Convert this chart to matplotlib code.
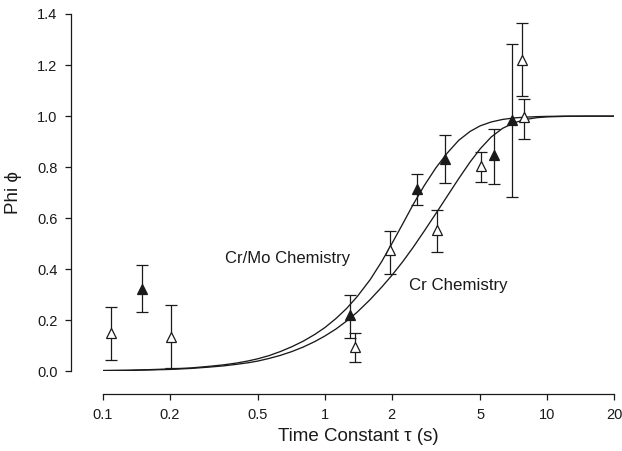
import numpy as np
import matplotlib
matplotlib.use("Agg")
import matplotlib.pyplot as plt

plt.rcParams['font.family'] = ['Liberation Sans', 'DejaVu Sans']

# fitted curves
curve_t = [0.1, 0.13, 0.16, 0.2, 0.25, 0.3, 0.35, 0.4, 0.45, 0.5, 0.56, 0.63,
           0.71, 0.8, 0.9, 1.0, 1.12, 1.25, 1.4, 1.6, 1.8, 2.0, 2.24, 2.5,
           2.8, 3.15, 3.55, 4.0, 4.5, 5.0, 5.6, 6.3, 7.1, 8.0, 9.0, 10, 12,
           15, 20]
curve_crmo = [0.004, 0.005, 0.007, 0.010, 0.014, 0.020, 0.026, 0.033, 0.041,
              0.050, 0.062, 0.078, 0.097, 0.119, 0.145, 0.172, 0.207, 0.246,
              0.294, 0.360, 0.430, 0.500, 0.578, 0.655, 0.728, 0.796, 0.855,
              0.905, 0.940, 0.962, 0.977, 0.987, 0.993, 0.996, 0.998, 0.999,
              1.0, 1.0, 1.0]
curve_cr = [0.003, 0.004, 0.006, 0.008, 0.012, 0.017, 0.022, 0.028, 0.034,
            0.041, 0.051, 0.063, 0.078, 0.096, 0.117, 0.139, 0.166, 0.197,
            0.233, 0.282, 0.330, 0.376, 0.430, 0.487, 0.550, 0.617, 0.686,
            0.755, 0.820, 0.872, 0.918, 0.952, 0.974, 0.987, 0.994, 0.997,
            0.999, 1.0, 1.0]

# Cr chemistry (open triangles)
t_cr = [0.109, 0.204, 1.367, 1.96, 3.21, 5.06, 7.75, 7.85]
phi_cr = [0.150, 0.135, 0.095, 0.475, 0.553, 0.805, 1.22, 0.997]
lo_cr = [0.046, 0.013, 0.036, 0.383, 0.468, 0.742, 1.078, 0.909]
hi_cr = [0.252, 0.259, 0.152, 0.550, 0.634, 0.858, 1.366, 1.068]

# Cr/Mo chemistry (filled triangles)
t_crmo = [0.150, 1.294, 2.59, 3.46, 5.77, 6.93]
phi_crmo = [0.324, 0.22, 0.716, 0.834, 0.847, 0.984]
lo_crmo = [0.234, 0.131, 0.651, 0.738, 0.736, 0.684]
hi_crmo = [0.416, 0.301, 0.775, 0.928, 0.948, 1.281]

xticks = [0.1, 0.2, 0.5, 1, 2, 5, 10, 20]
xticklabels = ["0.1", "0.2", "0.5", "1", "2", "5", "10", "20"]
yticks = [0.0, 0.2, 0.4, 0.6, 0.8, 1.0, 1.2, 1.4]

ink = '#1a1a1a'

fig = plt.figure(figsize=(6.22, 4.51), dpi=100)
ax = fig.add_axes([0.1651, 0.1763, 0.8220, 0.7927])

ax.plot(curve_t, curve_crmo, color=ink, lw=0.95, zorder=2,
        solid_joinstyle='round')
ax.plot(curve_t, curve_cr, color=ink, lw=0.95, zorder=2,
        solid_joinstyle='round')

def draw_set(t, phi, lo, hi, face):
    phi = np.array(phi)
    err = [phi - np.array(lo), np.array(hi) - phi]
    ax.errorbar(t, phi, yerr=err, fmt='none', ecolor=ink, elinewidth=0.9,
                capsize=4, capthick=0.9, zorder=3)
    ax.plot(t, phi, linestyle='none', marker='^', ms=6.5, mfc=face,
            mec=ink, mew=0.9, zorder=4)

draw_set(t_cr, phi_cr, lo_cr, hi_cr, 'white')
draw_set(t_crmo, phi_crmo, lo_crmo, hi_crmo, ink)

ax.text(0.356, 0.443, "Cr/Mo Chemistry", fontsize=12, color=ink,
        ha='left', va='center')
ax.text(2.39, 0.337, "Cr Chemistry", fontsize=12.2, color=ink,
        ha='left', va='center')

ax.set_xscale('log')
ax.set_xlim(0.1, 20)
ax.set_ylim(0, 1.4)
ax.set_xticks(xticks)
ax.set_xticklabels(xticklabels)
ax.xaxis.set_minor_locator(matplotlib.ticker.NullLocator())
ax.set_yticks(yticks)
ax.set_yticklabels(["%.1f" % v for v in yticks])

for s in ['top', 'right']:
    ax.spines[s].set_visible(False)
ax.spines['left'].set_position(('outward', 22.5))
ax.spines['bottom'].set_position(('outward', 16.5))
for s in ['left', 'bottom']:
    ax.spines[s].set_color(ink)
    ax.spines[s].set_linewidth(0.9)

ax.tick_params(axis='both', direction='out', length=4, width=0.9,
               color=ink, labelcolor=ink, labelsize=10.5)
ax.tick_params(axis='y', pad=6)
ax.tick_params(axis='x', pad=6)

ax.set_xlabel("Time Constant \u03c4 (s)", fontsize=13.5, color=ink, labelpad=4)
ax.set_ylabel("Phi \u03d5", fontsize=13.5, color=ink)
ax.yaxis.set_label_coords(-0.158, 0.5)

fig.savefig("out.png", dpi=100)
